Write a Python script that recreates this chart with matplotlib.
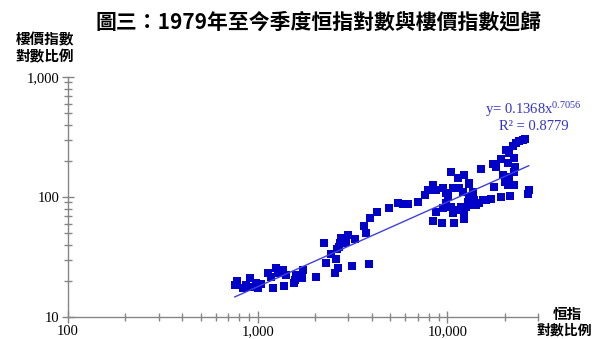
import matplotlib
matplotlib.use("Agg")
import matplotlib.pyplot as plt
import numpy as np
from matplotlib.ticker import LogLocator, FuncFormatter, NullFormatter

plt.rcParams["mathtext.fontset"] = "custom"
plt.rcParams["mathtext.rm"] = "Liberation Serif"
plt.rcParams["mathtext.it"] = "Liberation Serif:italic"

# Hang Seng index (x) vs property price index (y), quarterly since 1979
hsi = [773, 757, 837, 872, 915, 927, 985, 1004, 1046, 1133, 1181, 1204, 1254, 1279,
       1359, 1375, 1416, 1566, 1599, 1719, 1731, 1546, 1623,
       2036, 2223, 2299, 2443, 2543, 2573, 2646, 2620, 2702, 2757, 2800, 2850, 2680,
       2985, 2931, 3239, 3149, 3852, 3623, 3700, 3918, 4245, 4890, 5473, 5815, 6180, 6977,
       7656, 7872, 8369, 8718, 9441, 9840, 10037, 10460, 10666, 11560, 11330, 12286, 12035,
       13055, 13590, 15030, 17320, 18040, 19170, 20370, 21180, 22070, 22990, 23930, 24900,
       25730, 22520, 22800, 20760, 19720, 21180, 22520, 20180, 22520, 20760, 17670, 19170,
       21370, 26790, 26600,
       8369, 8718, 9377, 9441, 9840, 10460, 10666, 10890, 11330, 11800, 12286, 12286, 12540,
       12790, 13330, 13055, 13870, 14160, 14730, 15350, 15990, 16990, 13590, 13055]
prop = [19.95, 18.5, 17.3, 18.5, 21.0, 17.9, 19.1, 17.5, 18.7, 23.1, 21.7, 17.3, 25.5, 23.1,
        24.6, 18.2, 22.4, 20.3, 22.4, 21.3, 24.6, 19.1, 21.0,
        21.7, 41.6, 28.3, 33.5, 23.4, 30.3, 25.5, 36.6, 41.1, 45.3, 41.1, 44.4, 38.5,
        48.2, 42.4, 44.4, 26.8, 27.7, 57.3, 50.4, 67.2, 75.4, 81.5, 88.6, 87.5, 87.5, 91.4,
        103.9, 114.4, 125.9, 114.4, 118.2, 107.3, 101.9, 162.5, 118.2, 118.2, 143.2, 152.5, 110.7,
        128.3, 107.3, 170.2, 188.4, 178.9, 206.1, 246.6, 231.3, 266.1, 280.2, 292.8, 298.5,
        302.6, 210.2, 178.9, 190.9, 152.5, 147.6, 162.5, 134.1, 125.9, 125.9, 121.9, 99.4,
        101.9, 114.4, 105.9,
        63.5, 75.4, 61.1, 80.5, 88.6, 83.0, 73.1, 61.1, 77.9, 83.0, 65.2, 75.4, 83.0,
        91.4, 85.7, 100.6, 94.4, 85.7, 89.7, 94.4, 94.4, 95.7, 110.7, 130.0]

fit_a = 0.1368
fit_b = 0.7056
r2 = 0.8779

title = "圖三：1979年至今季度恒指對數與樓價指數迴歸"
ylabel1 = "樓價指數"
ylabel2 = "對數比例"
xlabel1 = "恒指"
xlabel2 = "對數比例"

cjk = ["Noto Sans CJK TC", "DejaVu Sans"]
serif = ["Liberation Serif", "DejaVu Serif"]

fig = plt.figure(figsize=(5.95, 3.39), dpi=100)
ax = fig.add_axes([68/595, 1-317/339, (538-68)/595, (317-77)/339])

ax.set_xscale("log")
ax.set_yscale("log")
ax.set_xlim(100, 30000)
ax.set_ylim(10, 1000)

ax.plot(hsi, prop, linestyle="none", marker="s", markersize=5.3,
        color="#0000c8", markeredgewidth=0, zorder=3)

xl = np.logspace(np.log10(min(hsi)), np.log10(max(hsi)), 50)
ax.plot(xl, fit_a * xl ** fit_b, color="#4040e0", lw=1.0, zorder=4)

for s in ["top", "right"]:
    ax.spines[s].set_visible(False)
for s in ["left", "bottom"]:
    ax.spines[s].set_color("#868686")
    ax.spines[s].set_linewidth(1.0)

fmt = FuncFormatter(lambda v, p: f"{int(round(v)):,}")
for axis in (ax.xaxis, ax.yaxis):
    axis.set_major_locator(LogLocator(base=10, numticks=10))
    axis.set_minor_locator(LogLocator(base=10, subs=np.arange(2, 10), numticks=10))
    axis.set_major_formatter(fmt)
    axis.set_minor_formatter(NullFormatter())

ax.tick_params(which="major", direction="inout", length=8, width=1, color="#868686",
               labelsize=10.5, pad=2)
ax.tick_params(which="minor", direction="inout", length=6, width=1, color="#868686")
for lab in ax.get_xticklabels() + ax.get_yticklabels():
    lab.set_fontfamily(serif)

eq = f"y= {fit_a}x$^{{{fit_b}}}$"
fig.text(0.897, 0.678, eq, ha="center", va="center", color="#3333cc",
         fontsize=10.5, family=serif)
fig.text(0.897, 0.628, f"R² = {r2}", ha="center", va="center", color="#3333cc",
         fontsize=10.5, family=serif)

fig.text(0.535, 0.935, title, ha="center", va="center", fontsize=15,
         fontweight="bold", family=cjk)
fig.text(0.075, 0.885, ylabel1, ha="center", va="center", fontsize=10.5,
         fontweight="bold", family=cjk)
fig.text(0.075, 0.835, ylabel2, ha="center", va="center", fontsize=10.5,
         fontweight="bold", family=cjk)
fig.text(0.953, 0.075, xlabel1, ha="center", va="center", fontsize=10.5,
         fontweight="bold", family=cjk)
fig.text(0.948, 0.024, xlabel2, ha="center", va="center", fontsize=10,
         fontweight="bold", family=cjk)

fig.savefig("out.png", dpi=100)
